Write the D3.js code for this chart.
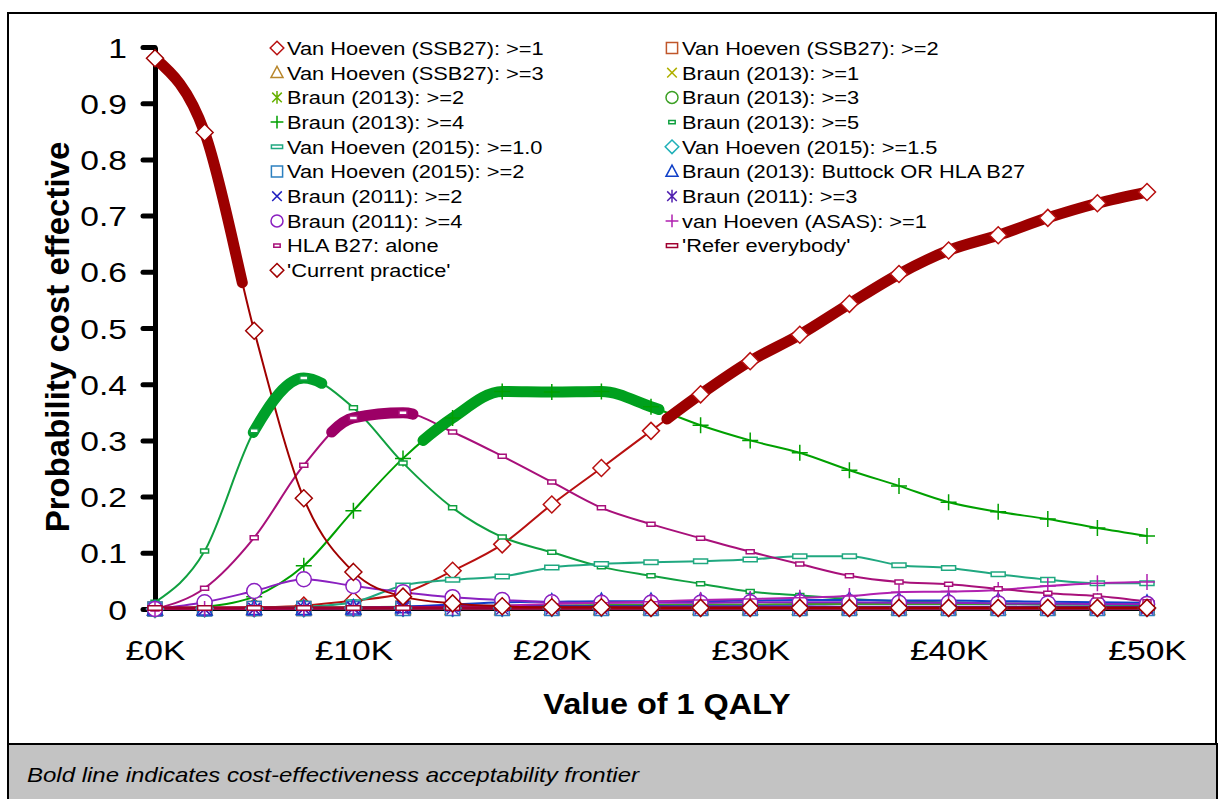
<!DOCTYPE html>
<html>
<head>
<meta charset="utf-8">
<script src="https://cdn.jsdelivr.net/npm/d3@7"></script>
<style>
body { margin: 0; background: #fff; }
text { font-family: "Liberation Sans", Arial, sans-serif; fill: #000; }
</style>
</head>
<body>
<div id="chart"></div>
<script>
// value of 1 QALY, in £K
var wtpK = [0, 2.5, 5, 7.5, 10, 12.5, 15, 17.5, 20, 22.5, 25, 27.5, 30, 32.5, 35, 37.5, 40, 42.5, 45, 47.5, 50];
var xTicks = [0, 10, 20, 30, 40, 50];
var xTickLabels = ["£0K", "£10K", "£20K", "£30K", "£40K", "£50K"];
var yTicks = [0, 0.1, 0.2, 0.3, 0.4, 0.5, 0.6, 0.7, 0.8, 0.9, 1];
var yTickLabels = ["0", "0.1", "0.2", "0.3", "0.4", "0.5", "0.6", "0.7", "0.8", "0.9", "1"];

var seriesNames = [
    "Van Hoeven (SSB27): >=1", "Van Hoeven (SSB27): >=2",
    "Van Hoeven (SSB27): >=3", "Braun (2013): >=1",
    "Braun (2013): >=2", "Braun (2013): >=3",
    "Braun (2013): >=4", "Braun (2013): >=5",
    "Van Hoeven (2015): >=1.0", "Van Hoeven (2015): >=1.5",
    "Van Hoeven (2015): >=2", "Braun (2013): Buttock OR HLA B27",
    "Braun (2011): >=2", "Braun (2011): >=3",
    "Braun (2011): >=4", "van Hoeven (ASAS): >=1",
    "HLA B27: alone", "'Refer everybody'",
    "'Current practice'"
];

// probability cost effective, one value per wtpK
var vhSsb27Ge1 = [0.000, 0.002, 0.003, 0.006, 0.015, 0.028, 0.068, 0.115, 0.186, 0.251, 0.317, 0.382, 0.441, 0.488, 0.543, 0.596, 0.638, 0.665, 0.696, 0.722, 0.742];
var vhSsb27Ge2 = [0.000, 0.001, 0.001, 0.001, 0.001, 0.002, 0.002, 0.002, 0.002, 0.002, 0.002, 0.002, 0.002, 0.002, 0.002, 0.002, 0.002, 0.002, 0.002, 0.002, 0.002];
var vhSsb27Ge3 = [0.000, 0.000, 0.001, 0.001, 0.001, 0.001, 0.001, 0.001, 0.001, 0.001, 0.001, 0.001, 0.001, 0.001, 0.001, 0.001, 0.001, 0.001, 0.001, 0.001, 0.001];
var braun13Ge1 = [0.000, 0.000, 0.000, 0.000, 0.000, 0.000, 0.000, 0.000, 0.000, 0.000, 0.000, 0.000, 0.000, 0.000, 0.000, 0.000, 0.000, 0.000, 0.000, 0.000, 0.000];
var braun13Ge2 = [0.000, 0.000, 0.000, 0.001, 0.001, 0.001, 0.002, 0.002, 0.002, 0.002, 0.002, 0.002, 0.002, 0.002, 0.002, 0.002, 0.002, 0.002, 0.002, 0.002, 0.002];
var braun13Ge3 = [0.000, 0.000, 0.001, 0.002, 0.003, 0.004, 0.005, 0.006, 0.006, 0.007, 0.007, 0.008, 0.008, 0.009, 0.009, 0.009, 0.009, 0.009, 0.008, 0.008, 0.008];
var braun13Ge4 = [0.000, 0.004, 0.022, 0.077, 0.175, 0.268, 0.340, 0.387, 0.386, 0.387, 0.360, 0.327, 0.300, 0.278, 0.247, 0.219, 0.190, 0.173, 0.160, 0.144, 0.130];
var braun13Ge5 = [0.012, 0.103, 0.317, 0.411, 0.358, 0.260, 0.180, 0.128, 0.101, 0.075, 0.059, 0.045, 0.031, 0.024, 0.018, 0.014, 0.012, 0.010, 0.009, 0.008, 0.007];
var vh15Ge10 = [0.002, 0.002, 0.002, 0.004, 0.012, 0.042, 0.052, 0.058, 0.074, 0.080, 0.083, 0.085, 0.088, 0.094, 0.094, 0.078, 0.073, 0.062, 0.052, 0.046, 0.046];
var vh15Ge15 = [0.000, 0.001, 0.001, 0.001, 0.002, 0.002, 0.002, 0.002, 0.002, 0.002, 0.002, 0.002, 0.002, 0.002, 0.002, 0.002, 0.002, 0.002, 0.002, 0.002, 0.002];
var vh15Ge2 = [0.000, 0.000, 0.001, 0.001, 0.001, 0.001, 0.001, 0.001, 0.001, 0.001, 0.001, 0.001, 0.001, 0.001, 0.001, 0.001, 0.001, 0.001, 0.001, 0.001, 0.001];
var braun13Buttock = [0.000, 0.000, 0.001, 0.001, 0.002, 0.004, 0.008, 0.012, 0.013, 0.014, 0.014, 0.014, 0.015, 0.016, 0.016, 0.015, 0.015, 0.014, 0.013, 0.012, 0.011];
var braun11Ge2 = [0.000, 0.000, 0.000, 0.001, 0.002, 0.004, 0.006, 0.006, 0.005, 0.005, 0.005, 0.005, 0.005, 0.005, 0.004, 0.004, 0.004, 0.004, 0.004, 0.004, 0.004];
var braun11Ge3 = [0.000, 0.000, 0.000, 0.001, 0.001, 0.001, 0.001, 0.001, 0.001, 0.001, 0.001, 0.001, 0.001, 0.001, 0.001, 0.001, 0.001, 0.001, 0.001, 0.001, 0.001];
var braun11Ge4 = [0.000, 0.012, 0.032, 0.053, 0.041, 0.030, 0.021, 0.016, 0.012, 0.011, 0.011, 0.011, 0.012, 0.012, 0.012, 0.011, 0.011, 0.010, 0.010, 0.009, 0.009];
var vhAsasGe1 = [0.000, 0.000, 0.000, 0.001, 0.002, 0.003, 0.004, 0.006, 0.009, 0.011, 0.013, 0.016, 0.018, 0.020, 0.023, 0.030, 0.031, 0.034, 0.041, 0.046, 0.048];
var hlaB27Alone = [0.000, 0.037, 0.127, 0.256, 0.340, 0.349, 0.315, 0.272, 0.226, 0.180, 0.151, 0.126, 0.102, 0.080, 0.059, 0.048, 0.044, 0.036, 0.028, 0.023, 0.013];
var referAll = [0.002, 0.002, 0.002, 0.002, 0.002, 0.002, 0.002, 0.002, 0.002, 0.002, 0.002, 0.002, 0.002, 0.002, 0.002, 0.002, 0.002, 0.002, 0.002, 0.002, 0.002];
var currentPractice = [0.980, 0.848, 0.495, 0.197, 0.066, 0.022, 0.010, 0.005, 0.003, 0.003, 0.002, 0.002, 0.002, 0.002, 0.002, 0.002, 0.002, 0.002, 0.002, 0.002, 0.002];

var seriesValues = [vhSsb27Ge1, vhSsb27Ge2, vhSsb27Ge3, braun13Ge1, braun13Ge2, braun13Ge3,
    braun13Ge4, braun13Ge5, vh15Ge10, vh15Ge15, vh15Ge2, braun13Buttock,
    braun11Ge2, braun11Ge3, braun11Ge4, vhAsasGe1, hlaB27Alone, referAll, currentPractice];

// cost-effectiveness acceptability frontier: series index and £K range
var frontier = [
    {series: 18, from: 0, to: 4.4},
    {series: 7, from: 4.95, to: 8.4},
    {series: 16, from: 8.9, to: 13.0},
    {series: 6, from: 13.5, to: 25.4},
    {series: 0, from: 25.8, to: 50}
];

var seriesStyle = [
    {color: "#b81010", marker: "diamond", bold: "#9c0000"},
    {color: "#c0562a", marker: "square"},
    {color: "#b8862b", marker: "triangle"},
    {color: "#b0b000", marker: "cross"},
    {color: "#66b000", marker: "star"},
    {color: "#3ca024", marker: "circle"},
    {color: "#00a000", marker: "plus", bold: "#00a01e"},
    {color: "#10a040", marker: "dash", bold: "#00a02a"},
    {color: "#20a880", marker: "wideDash"},
    {color: "#20b0b8", marker: "diamond"},
    {color: "#2c80c0", marker: "square"},
    {color: "#1040c8", marker: "triangle"},
    {color: "#2020c0", marker: "cross"},
    {color: "#5020b0", marker: "star"},
    {color: "#8a20c0", marker: "circle"},
    {color: "#b020b0", marker: "plus"},
    {color: "#a8107a", marker: "dash", bold: "#9c0066"},
    {color: "#a00030", marker: "wideDash"},
    {color: "#a00000", marker: "diamond", bold: "#9c0000"}
];

var svgwidth = 1224;
var svgheight = 799;

var svg = d3.select("#chart").append("svg").attr("width", svgwidth).attr("height", svgheight);

// outer frame + caption band
svg.append("rect").attr("x", 8).attr("y", 13).attr("width", 1208).attr("height", 800)
    .attr("fill", "#fff").attr("stroke", "#000").attr("stroke-width", 2);
svg.append("rect").attr("x", 8).attr("y", 744).attr("width", 1209).attr("height", 60)
    .attr("fill", "#c3c3c3").attr("stroke", "#000").attr("stroke-width", 2);

var x = d3.scaleLinear().domain([0, 50]).range([155, 1147]);
var y = d3.scaleLinear().domain([0, 1]).range([609, 47]);

// x axis
var xAxis = svg.append("g").attr("transform", "translate(0,609)")
    .call(d3.axisBottom(x).tickValues(xTicks).tickSize(7).tickSizeOuter(0)
        .tickFormat(function(d, i) { return xTickLabels[i]; }));
xAxis.select(".domain").attr("stroke-width", 3).attr("stroke-linecap", "round");
xAxis.selectAll(".tick line").attr("stroke-width", 5);
xAxis.selectAll(".tick text").attr("y", null).attr("dy", null)
    .attr("transform", "translate(0,51) scale(1.2,1)")
    .attr("font-size", 28).attr("font-family", "Liberation Sans, Arial, sans-serif");

// y axis
var yAxis = svg.append("g").attr("transform", "translate(155,0)")
    .call(d3.axisLeft(y).tickValues(yTicks).tickSize(12).tickSizeOuter(0)
        .tickFormat(function(d, i) { return yTickLabels[i]; }));
yAxis.select(".domain").attr("stroke-width", 5);
yAxis.selectAll(".tick line").attr("stroke-width", 5).attr("stroke-linecap", "round");
yAxis.selectAll(".tick text").attr("x", null).attr("dy", null)
    .attr("transform", "translate(-28,10) scale(1.2,1)")
    .attr("font-size", 28).attr("font-family", "Liberation Sans, Arial, sans-serif");

//axis titles
svg.append("text")
    .attr("transform", "translate(667,714) scale(1.08,1)")
    .attr("text-anchor", "middle")
    .attr("font-size", 30).attr("font-weight", "bold")
    .text("Value of 1 QALY");

svg.append("text")
    .attr("transform", "translate(69,337) rotate(-90)")
    .attr("text-anchor", "middle")
    .attr("font-size", 33).attr("font-weight", "bold")
    .text("Probability cost effective");

svg.append("text")
    .attr("transform", "translate(27,782) scale(1.2,1)")
    .attr("font-size", 20).attr("font-style", "italic")
    .text("Bold line indicates cost-effectiveness acceptability frontier");

// marker shapes
function markerPath(type, s) {
    function r(w, h) { return "M" + (-w / 2) + "," + (-h / 2) + "h" + w + "v" + h + "h" + (-w) + "Z"; }
    switch (type) {
        case "diamond": return "M0," + (-8.5 * s) + "L" + (8.5 * s) + ",0L0," + (8.5 * s) + "L" + (-8.5 * s) + ",0Z";
        case "square": return r(14 * s, 14 * s);
        case "triangle": return "M0," + (-8 * s) + "L" + (7.5 * s) + "," + (6 * s) + "L" + (-7.5 * s) + "," + (6 * s) + "Z";
        case "cross": return "M" + (-6 * s) + "," + (-6 * s) + "L" + (6 * s) + "," + (6 * s) + "M" + (-6 * s) + "," + (6 * s) + "L" + (6 * s) + "," + (-6 * s);
        case "star": return "M" + (-6 * s) + "," + (-6 * s) + "L" + (6 * s) + "," + (6 * s) + "M" + (-6 * s) + "," + (6 * s) + "L" + (6 * s) + "," + (-6 * s) + "M0," + (-8 * s) + "V" + (8 * s);
        case "circle": var c = 7.5 * s; return "M" + c + ",0A" + c + "," + c + " 0 1,1 " + (-c) + ",0A" + c + "," + c + " 0 1,1 " + c + ",0Z";
        case "plus": return "M" + (-8 * s) + ",0H" + (8 * s) + "M0," + (-8 * s) + "V" + (8 * s);
        case "dash": return r(8 * s, 4 * s);
        case "wideDash": return r(14 * s, 4.5 * s);
    }
}
function isOpen(type) { return type == "cross" || type == "star" || type == "plus"; }

var line = d3.line()
    .x(function(d, i) { return x(wtpK[i]); })
    .y(function(d) { return y(d); })
    .curve(d3.curveMonotoneX);

// thin lines
var paths = [];
seriesValues.forEach(function(vals, k) {
    var p = svg.append("path")
        .attr("d", line(vals))
        .attr("fill", "none")
        .attr("stroke", seriesStyle[k].color)
        .attr("stroke-width", k == 17 ? 3.5 : 2)
        .attr("stroke-linejoin", "round");
    paths.push(p.node());
});

// frontier: bold portions of the curves
function lengthAtX(node, xt) {
    var lo = 0, hi = node.getTotalLength();
    for (var i = 0; i < 40; i++) {
        var mid = (lo + hi) / 2;
        if (node.getPointAtLength(mid).x < xt) lo = mid; else hi = mid;
    }
    return lo;
}
frontier.forEach(function(f) {
    var node = paths[f.series];
    var total = node.getTotalLength();
    var l0 = lengthAtX(node, x(f.from));
    var l1 = f.to >= 50 ? total : lengthAtX(node, x(f.to));
    svg.append("path")
        .attr("d", line(seriesValues[f.series]))
        .attr("fill", "none")
        .attr("stroke", seriesStyle[f.series].bold)
        .attr("stroke-width", 11)
        .attr("stroke-linecap", "round")
        .attr("stroke-linejoin", "round")
        .attr("stroke-dasharray", (l1 - l0) + " " + (total + 10))
        .attr("stroke-dashoffset", -l0);
});

// markers
seriesValues.forEach(function(vals, k) {
    var st = seriesStyle[k];
    svg.append("g").selectAll("path")
        .data(vals)
        .enter()
        .append("path")
        .attr("transform", function(d, i) { return "translate(" + x(wtpK[i]) + "," + y(d) + ")"; })
        .attr("d", markerPath(st.marker, 1))
        .attr("fill", isOpen(st.marker) ? "none" : "#fff")
        .attr("stroke", st.color)
        .attr("stroke-width", 1.5);
});

// legend
var legend = svg.append("g");
seriesNames.forEach(function(name, k) {
    var col = k % 2, row = Math.floor(k / 2);
    var lx = col == 0 ? 277 : 672;
    var ly = 48 + row * 24.7;
    var st = seriesStyle[k];
    legend.append("path")
        .attr("transform", "translate(" + lx + "," + ly + ")")
        .attr("d", markerPath(st.marker, 0.8))
        .attr("fill", isOpen(st.marker) ? "none" : "#fff")
        .attr("stroke", st.color)
        .attr("stroke-width", 1.5);
    legend.append("text")
        .attr("transform", "translate(" + (lx + 10) + "," + (ly + 6.8) + ") scale(1.18,1)")
        .attr("font-size", 18.5)
        .text(name);
});
</script>
</body>
</html>
